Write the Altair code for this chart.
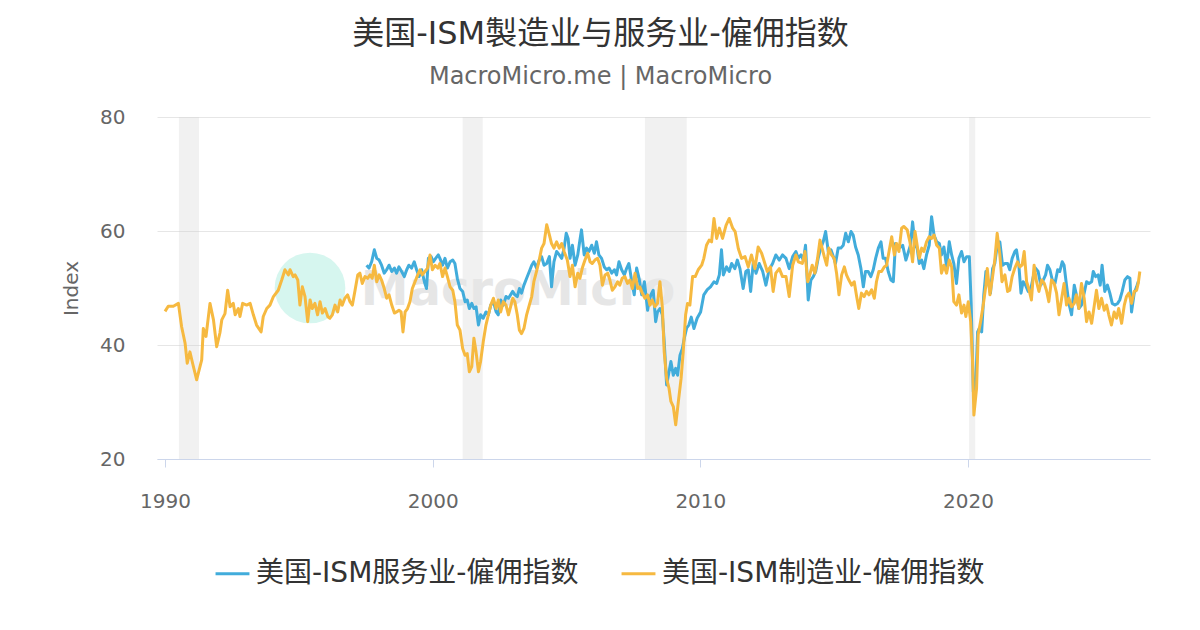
import altair as alt
import pandas as pd

FONT = "DejaVu Sans, Noto Sans CJK SC"

title_text = "美国-ISM製造业与服务业-僱佣指数"
subtitle_text = "MacroMicro.me | MacroMicro"
svc_name = "美国-ISM服务业-僱佣指数"
mfg_name = "美国-ISM制造业-僱佣指数"
series_colors = ["#41acdb", "#f6b940"]

# (decimal year, value)
mfg_points = [
    (1990.00,45.9),(1990.12,46.8),(1990.31,46.8),(1990.50,47.3),(1990.62,43.2),(1990.75,40.3),(1990.83,36.8),(1990.93,38.8),(1991.03,36.8),(1991.18,33.9),(1991.37,37.4),(1991.43,42.9),(1991.53,41.5),(1991.68,47.3),(1991.81,44.4),(1991.93,39.7),
    (1992.05,42.1),(1992.12,44.4),(1992.24,45.5),(1992.34,49.6),(1992.43,46.7),(1992.55,47.3),(1992.62,45.3),(1992.74,46.4),(1992.80,45.0),(1992.90,47.3),
    (1993.05,47.0),(1993.18,47.3),(1993.30,45.3),(1993.42,43.5),(1993.59,42.3),(1993.67,45.0),(1993.80,46.4),(1993.92,47.0),
    (1994.05,48.5),(1994.23,49.6),(1994.36,51.4),(1994.48,53.2),(1994.61,52.3),(1994.67,53.2),(1994.79,52.0),(1994.86,52.3),(1994.96,51.4),
    (1995.04,47.0),(1995.13,50.2),(1995.23,48.5),(1995.33,44.1),(1995.42,47.9),(1995.50,46.4),(1995.60,47.3),(1995.70,45.3),(1995.79,47.6),(1995.88,45.6),(1995.98,46.4),
    (1996.08,45.0),(1996.16,44.7),(1996.25,45.3),(1996.35,47.0),(1996.45,45.8),(1996.54,47.9),(1996.62,47.0),(1996.72,48.2),(1996.82,48.8),(1996.91,47.6),
    (1997.00,47.0),(1997.10,49.6),(1997.20,52.3),(1997.28,52.6),(1997.37,50.8),(1997.47,52.0),(1997.57,51.7),(1997.66,52.3),(1997.74,51.7),(1997.82,54.0),(1997.91,51.1),
    (1998.00,52.3),(1998.09,51.4),(1998.19,49.9),(1998.28,48.2),(1998.37,48.8),(1998.47,47.0),(1998.57,45.6),(1998.65,45.8),(1998.74,46.1),(1998.82,45.8),(1998.89,42.3),(1998.97,45.8),
    (1999.06,46.4),(1999.15,47.6),(1999.24,49.9),(1999.34,51.1),(1999.44,52.3),(1999.53,53.2),(1999.61,52.3),(1999.71,52.9),(1999.81,53.5),(1999.90,55.8),(1999.99,53.2),
    (2000.09,54.0),(2000.19,53.5),(2000.27,54.3),(2000.37,52.0),(2000.46,53.5),(2000.55,52.0),(2000.65,50.2),(2000.75,49.6),(2000.83,47.6),(2000.92,43.5),
    (2001.02,42.6),(2001.12,39.4),(2001.21,38.2),(2001.29,38.5),(2001.37,35.3),(2001.46,36.2),(2001.54,41.2),(2001.62,38.8),(2001.71,35.3),(2001.79,37.1),(2001.89,40.6),(2001.99,43.5),
    (2002.08,45.3),(2002.17,47.0),(2002.27,48.2),(2002.37,46.4),(2002.45,47.9),(2002.54,45.8),(2002.64,47.6),(2002.74,47.0),(2002.83,45.3),(2002.91,46.7),(2002.99,48.2),
    (2003.07,47.6),(2003.16,45.3),(2003.24,42.6),(2003.32,42.0),(2003.41,42.9),(2003.51,45.3),(2003.61,47.0),(2003.70,48.5),(2003.78,51.1),(2003.88,52.9),(2003.98,54.9),
    (2004.07,57.0),(2004.16,57.8),(2004.26,61.1),(2004.36,59.3),(2004.44,57.8),(2004.53,57.0),(2004.63,58.1),(2004.73,57.0),(2004.82,57.8),(2004.91,56.4),
    (2005.03,54.9),(2005.13,52.0),(2005.22,54.0),(2005.32,50.2),(2005.42,52.6),(2005.50,51.7),(2005.59,53.5),(2005.69,54.9),(2005.79,56.1),(2005.88,54.6),(2005.96,54.3),
    (2006.06,54.9),(2006.16,55.2),(2006.25,54.0),(2006.34,50.5),(2006.44,52.3),(2006.54,52.6),(2006.62,51.4),(2006.71,49.6),(2006.81,50.2),(2006.91,51.1),(2006.99,50.5),
    (2007.08,51.7),(2007.18,52.0),(2007.28,50.8),(2007.37,51.4),(2007.46,49.9),(2007.56,52.6),(2007.66,49.9),(2007.74,50.2),(2007.83,49.1),(2007.93,48.2),
    (2008.03,48.8),(2008.12,47.0),(2008.20,47.9),(2008.30,46.7),(2008.40,47.3),(2008.49,51.1),(2008.58,46.7),(2008.65,38.8),(2008.74,34.1),(2008.83,32.4),(2008.90,30.1),(2008.99,29.2),
    (2009.08,26.0),(2009.18,30.1),(2009.28,34.1),(2009.36,38.8),(2009.45,45.3),(2009.52,47.3),(2009.61,47.0),(2009.71,52.0),(2009.81,52.0),(2009.92,53.2),
    (2010.05,54.0),(2010.13,55.2),(2010.23,57.5),(2010.33,58.4),(2010.42,58.1),(2010.51,62.2),(2010.61,58.7),(2010.71,60.5),(2010.83,58.7),(2010.96,61.0),
    (2011.08,62.2),(2011.21,60.5),(2011.30,59.9),(2011.42,56.9),(2011.54,55.2),(2011.67,55.5),(2011.79,53.7),(2011.91,55.8),
    (2012.04,53.4),(2012.16,57.2),(2012.29,56.1),(2012.41,54.3),(2012.50,52.9),(2012.62,53.7),(2012.72,49.4),(2012.82,52.6),(2012.95,53.4),
    (2013.07,52.0),(2013.20,52.0),(2013.32,48.5),(2013.45,54.0),(2013.57,55.8),(2013.66,54.6),(2013.81,54.3),(2013.91,56.4),
    (2014.01,51.1),(2014.09,52.3),(2014.18,54.0),(2014.28,52.6),(2014.38,55.2),(2014.47,58.4),(2014.55,57.0),(2014.63,55.5),(2014.72,54.0),(2014.80,57.0),(2014.90,55.8),
    (2015.00,55.2),(2015.09,52.6),(2015.18,48.8),(2015.28,52.3),(2015.38,53.7),(2015.46,52.3),(2015.55,51.4),(2015.65,50.5),(2015.75,51.1),(2015.84,48.5),(2015.92,46.4),
    (2016.02,49.1),(2016.12,48.5),(2016.21,49.4),(2016.30,48.8),(2016.40,49.7),(2016.50,48.2),(2016.58,51.1),(2016.67,52.9),(2016.77,52.9),(2016.87,53.7),(2016.96,54.0),
    (2017.05,56.4),(2017.15,59.0),(2017.25,55.8),(2017.33,57.8),(2017.42,56.4),(2017.52,60.5),(2017.60,60.8),(2017.73,60.2),(2017.83,58.1),(2017.93,54.6),
    (2018.02,59.9),(2018.10,57.5),(2018.18,55.2),(2018.27,57.0),(2018.35,56.4),(2018.45,58.1),(2018.55,59.0),(2018.64,58.7),(2018.73,59.3),(2018.83,57.5),(2018.93,57.0),
    (2019.01,52.6),(2019.10,54.0),(2019.20,52.6),(2019.30,54.9),(2019.39,53.7),(2019.47,47.6),(2019.57,47.0),(2019.66,48.8),(2019.76,45.6),(2019.85,47.0),(2019.92,45.0),
    (2020.01,47.6),(2020.10,44.1),(2020.17,37.1),(2020.22,27.7),(2020.32,32.4),(2020.38,41.8),(2020.47,44.1),(2020.57,47.0),(2020.67,50.5),(2020.72,53.4),(2020.82,48.8),(2020.92,52.0),
    (2021.00,54.9),(2021.09,59.6),(2021.19,55.8),(2021.27,51.1),(2021.38,52.3),(2021.48,49.4),(2021.56,49.6),(2021.65,52.0),(2021.75,53.5),(2021.85,54.6),(2021.94,53.7),
    (2022.02,54.0),(2022.10,56.4),(2022.19,51.1),(2022.27,49.9),(2022.37,47.9),(2022.47,54.0),(2022.56,51.1),(2022.65,49.4),(2022.75,51.4),(2022.85,50.8),(2022.93,49.6),
    (2023.02,47.6),(2023.12,51.4),(2023.22,50.8),(2023.31,49.1),(2023.40,45.3),(2023.50,48.2),(2023.59,50.8),(2023.68,47.0),(2023.77,48.2),(2023.87,46.7),(2023.97,47.3),
    (2024.05,48.8),(2024.14,46.4),(2024.24,50.8),(2024.34,48.2),(2024.43,44.1),(2024.52,45.8),(2024.62,43.8),(2024.72,47.0),(2024.80,49.6),(2024.89,46.4),(2024.99,48.2),
    (2025.09,46.1),(2025.18,47.0),(2025.26,45.3),(2025.36,43.5),(2025.46,45.8),(2025.55,44.7),(2025.63,46.4),(2025.74,43.8),(2025.84,47.0),(2025.92,48.5),
    (2026.01,49.1),(2026.11,47.3),(2026.21,49.4),(2026.30,49.6),(2026.36,50.8),(2026.42,52.9),
]

svc_points = [
    (1997.53,54.0),(1997.62,53.5),(1997.72,54.6),(1997.82,56.7),(1997.91,55.2),(1998.00,54.9),(1998.09,54.0),(1998.19,52.6),(1998.28,53.2),(1998.37,54.0),(1998.47,52.9),(1998.57,53.5),(1998.65,52.6),(1998.74,53.7),(1998.84,52.9),(1998.94,52.0),
    (1999.03,53.2),(1999.11,54.0),(1999.21,53.5),(1999.31,54.6),(1999.40,53.2),(1999.49,52.0),(1999.59,53.2),(1999.69,51.1),(1999.77,49.9),(1999.84,55.2),(1999.94,55.5),
    (2000.02,54.6),(2000.11,55.2),(2000.21,55.8),(2000.27,55.2),(2000.37,54.0),(2000.46,55.2),(2000.55,53.5),(2000.65,54.6),(2000.75,54.9),(2000.83,54.3),(2000.92,51.7),
    (2001.02,49.9),(2001.12,49.4),(2001.21,47.6),(2001.29,47.9),(2001.37,46.4),(2001.46,47.3),(2001.54,46.4),(2001.62,46.7),(2001.71,43.5),(2001.79,45.3),(2001.89,44.7),(2001.99,45.8),
    (2002.08,45.3),(2002.17,47.0),(2002.27,47.6),(2002.37,45.8),(2002.45,45.3),(2002.54,47.9),(2002.64,47.0),(2002.74,48.5),(2002.83,48.2),(2002.91,48.8),(2002.99,49.4),
    (2003.07,48.8),(2003.16,48.5),(2003.24,49.9),(2003.32,49.1),(2003.41,50.5),(2003.51,51.7),(2003.61,52.9),(2003.70,54.0),(2003.78,54.6),(2003.88,53.5),(2003.98,54.9),
    (2004.07,55.5),(2004.16,54.0),(2004.26,54.3),(2004.36,55.5),(2004.44,50.2),(2004.53,54.6),(2004.63,56.4),(2004.73,55.8),(2004.82,55.2),(2004.91,57.0),
    (2004.99,59.6),(2005.06,58.7),(2005.13,55.2),(2005.22,57.5),(2005.32,54.0),(2005.42,55.8),(2005.50,58.4),(2005.56,60.2),(2005.66,55.8),(2005.75,57.0),(2005.84,56.4),(2005.94,57.5),
    (2006.04,56.1),(2006.12,58.1),(2006.21,55.8),(2006.31,55.2),(2006.41,53.7),(2006.50,53.2),(2006.59,53.5),(2006.69,52.6),(2006.79,53.2),(2006.87,52.3),(2006.96,54.6),
    (2007.06,53.2),(2007.16,52.3),(2007.25,53.5),(2007.33,54.3),(2007.43,51.4),(2007.53,48.8),(2007.62,53.5),(2007.71,51.7),(2007.81,48.8),(2007.91,51.1),
    (2008.03,46.1),(2008.08,47.6),(2008.15,48.8),(2008.24,49.6),(2008.33,44.1),(2008.40,45.8),(2008.49,46.4),(2008.58,45.3),(2008.65,40.6),(2008.74,33.0),(2008.83,35.3),(2008.90,37.1),(2008.99,34.7),
    (2009.08,35.9),(2009.15,34.7),(2009.24,38.2),(2009.33,39.4),(2009.40,41.2),(2009.49,43.0),(2009.57,43.5),(2009.66,44.9),(2009.76,42.9),(2009.88,44.7),
    (2010.01,45.8),(2010.13,48.8),(2010.26,49.7),(2010.38,50.2),(2010.51,51.1),(2010.61,50.8),(2010.71,52.3),(2010.79,56.7),(2010.86,52.3),(2010.98,53.7),
    (2011.08,52.9),(2011.17,54.3),(2011.29,53.4),(2011.38,54.9),(2011.48,53.4),(2011.60,49.9),(2011.70,52.9),(2011.79,53.2),(2011.88,49.4),(2011.98,54.6),
    (2012.08,52.6),(2012.20,54.3),(2012.33,52.9),(2012.45,50.5),(2012.57,53.2),(2012.70,54.3),(2012.82,55.8),(2012.95,54.9),
    (2013.07,55.8),(2013.20,55.2),(2013.32,53.4),(2013.45,55.5),(2013.57,56.4),(2013.66,55.2),(2013.76,55.8),(2013.85,54.9),(2013.93,57.5),
    (2014.03,47.9),(2014.13,51.4),(2014.22,52.0),(2014.31,52.9),(2014.40,55.2),(2014.50,57.0),(2014.59,58.1),(2014.68,59.9),(2014.78,56.4),(2014.88,56.7),(2014.97,55.5),
    (2015.05,54.3),(2015.15,57.0),(2015.25,57.0),(2015.34,57.5),(2015.43,59.6),(2015.53,58.1),(2015.63,59.9),(2015.71,59.3),(2015.80,57.2),(2015.90,55.8),
    (2016.00,53.4),(2016.09,50.2),(2016.17,52.9),(2016.27,52.9),(2016.37,52.0),(2016.46,53.2),(2016.55,55.2),(2016.65,57.0),(2016.75,58.1),(2016.83,55.2),(2016.92,55.2),
    (2017.02,52.9),(2017.12,51.4),(2017.21,51.1),(2017.29,57.8),(2017.39,57.0),(2017.49,57.2),(2017.56,57.5),(2017.68,54.9),(2017.85,57.5),(2017.93,61.6),
    (2018.02,57.5),(2018.10,57.0),(2018.18,54.3),(2018.27,54.9),(2018.35,53.4),(2018.45,55.8),(2018.55,57.5),(2018.64,62.5),(2018.73,59.3),(2018.83,58.1),(2018.93,57.8),
    (2019.01,55.8),(2019.10,57.2),(2019.20,53.7),(2019.30,58.1),(2019.39,55.8),(2019.47,54.3),(2019.57,50.8),(2019.66,55.2),(2019.76,56.4),(2019.85,54.6),(2019.95,55.5),
    (2020.05,55.5),(2020.12,47.0),(2020.20,31.8),(2020.28,31.5),(2020.36,42.3),(2020.42,42.9),(2020.51,42.3),(2020.59,48.8),(2020.67,52.9),(2020.76,51.1),(2020.84,49.1),(2020.92,53.4),
    (2021.00,54.3),(2021.09,57.5),(2021.19,58.1),(2021.29,54.0),(2021.38,54.3),(2021.48,54.3),(2021.56,53.2),(2021.65,55.2),(2021.75,56.4),(2021.81,56.7),(2021.90,54.0),(2021.98,49.1),
    (2022.06,51.1),(2022.15,50.5),(2022.25,49.4),(2022.35,49.9),(2022.44,52.0),(2022.52,53.5),(2022.62,52.9),(2022.72,50.5),(2022.81,51.4),(2022.90,52.3),(2022.97,54.0),
    (2023.06,53.2),(2023.15,51.4),(2023.25,50.8),(2023.35,53.2),(2023.43,52.9),(2023.52,54.6),(2023.59,54.0),(2023.68,50.5),(2023.77,47.3),(2023.87,45.3),(2023.97,50.5),
    (2024.05,48.8),(2024.14,46.4),(2024.24,47.0),(2024.34,49.1),(2024.43,51.1),(2024.52,50.8),(2024.62,51.1),(2024.68,52.9),(2024.77,52.0),(2024.86,52.3),(2024.94,50.5),
    (2025.01,54.0),(2025.11,49.4),(2025.21,50.5),(2025.30,49.1),(2025.39,47.3),(2025.49,47.0),(2025.59,47.3),(2025.67,47.9),(2025.76,49.4),(2025.86,51.4),(2025.96,52.0),
    (2026.05,51.7),(2026.11,45.8),(2026.21,49.1),(2026.30,50.2),(2026.36,51.1),
]

# recession bands (start, end) in decimal years
recession_start = [1990.52, 2001.12, 2007.93, 2020.04]
recession_end = [1991.27, 2001.87, 2009.49, 2020.27]

x_ticks = [1990, 2000, 2010, 2020]
y_ticks = [20, 40, 60, 80]

mfg = pd.DataFrame(mfg_points, columns=["year", "value"])
mfg["series"] = mfg_name
svc = pd.DataFrame(svc_points, columns=["year", "value"])
svc["series"] = svc_name
rec = pd.DataFrame({"start": recession_start, "end": recession_end})

W, H = 993, 342

xscale = alt.Scale(domain=[1989.70, 2026.80], nice=False, zero=False)
yscale = alt.Scale(domain=[20, 80], nice=False, zero=False)
cscale = alt.Scale(domain=[svc_name, mfg_name], range=series_colors)

x_axis = alt.Axis(values=x_ticks, format="d", title=None, grid=False,
                  domainColor="#ccd6eb", tickColor="#ccd6eb", tickSize=8,
                  labelFontSize=20, labelColor="#666666", labelFont=FONT,
                  labelPadding=24)
y_axis = alt.Axis(values=y_ticks, title="Index", grid=True, gridColor="#e6e6e6",
                  domain=False, ticks=False, labelFontSize=20, labelColor="#666666",
                  labelFont=FONT, labelPadding=32, titleFontSize=20,
                  titleColor="#666666", titleFont=FONT, titleFontWeight="normal",
                  titlePadding=18)

legend = alt.Legend(title=None, orient="none", legendX=57, legendY=438,
                    direction="horizontal", symbolType="stroke",
                    symbolStrokeWidth=3, symbolSize=1150, labelFontSize=28,
                    labelFont=FONT, labelColor="#333333", labelOffset=5,
                    columnPadding=36, labelLimit=0)

bands = alt.Chart(rec).mark_rect(color="#cccccc", opacity=0.27).encode(
    x=alt.X("start:Q", scale=xscale, axis=x_axis),
    x2="end:Q",
)

wm = pd.DataFrame({"t": ["MacroMicro"]})
wm_circle = alt.Chart(wm).mark_circle(size=5000, color="#d6f6ef", opacity=1).encode(
    x=alt.value(153), y=alt.value(171))
wm_text = alt.Chart(wm).mark_text(fontSize=48, fontWeight="bold", color="#e6e6e6",
                                  font="DejaVu Sans", align="center",
                                  baseline="middle").encode(
    x=alt.value(361), y=alt.value(174), text="t:N")

def line(df):
    return alt.Chart(df).mark_line(strokeWidth=3, strokeJoin="round").encode(
        x=alt.X("year:Q", scale=xscale, axis=x_axis),
        y=alt.Y("value:Q", scale=yscale, axis=y_axis),
        color=alt.Color("series:N", scale=cscale, legend=legend),
    )

chart = alt.layer(bands, wm_circle, wm_text, line(svc), line(mfg)).properties(
    width=W, height=H,
    padding={"left": 149, "top": 109, "right": 42, "bottom": 163},
    autosize=alt.AutoSizeParams(type="none"),
    background="white",
    title=alt.TitleParams(text=title_text, subtitle=subtitle_text, anchor="middle",
                          dx=-53, fontSize=32, font=FONT, color="#333333",
                          fontWeight="normal", subtitleFontSize=24,
                          subtitleFont=FONT, subtitleColor="#666666",
                          subtitlePadding=14, offset=17),
).configure_view(stroke=None)

chart.save("out.html", embed_options={"renderer": "svg", "actions": False})
